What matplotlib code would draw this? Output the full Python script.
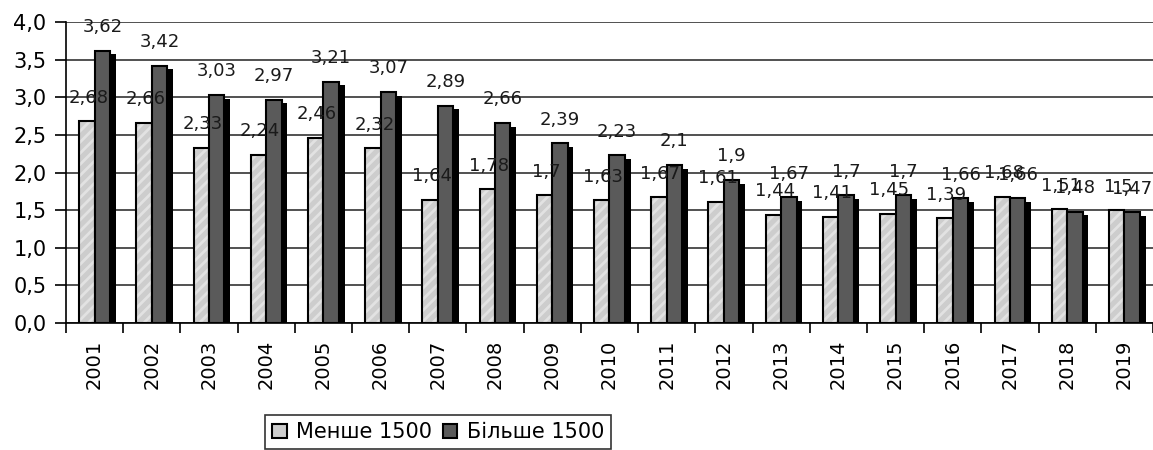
import matplotlib.pyplot as plt
import numpy as np

years = ['2001', '2002', '2003', '2004', '2005', '2006', '2007', '2008', '2009', '2010',
         '2011', '2012', '2013', '2014', '2015', '2016', '2017', '2018', '2019']
less_1500 = [2.68, 2.66, 2.33, 2.24, 2.46, 2.32, 1.64, 1.78, 1.7, 1.63,
             1.67, 1.61, 1.44, 1.41, 1.45, 1.39, 1.68, 1.51, 1.5]
more_1500 = [3.62, 3.42, 3.03, 2.97, 3.21, 3.07, 2.89, 2.66, 2.39, 2.23,
             2.1, 1.9, 1.67, 1.7, 1.7, 1.66, 1.66, 1.48, 1.47]
labels = ['Менше 1500', 'Більше 1500']

def fmt(v):
  return ('%g' % v).replace('.', ',')

plt.rcParams['font.family'] = 'DejaVu Sans'
plt.rcParams['hatch.linewidth'] = 2.0

fig = plt.figure(figsize=(11.53, 4.5), dpi=100)
ax = fig.add_axes([0.0572, 0.282, 0.9428, 0.669])

x = np.arange(len(years))
w = 0.27
xl = x - w / 2
xd = x + w / 2

# black drop shadow behind each bar
ax.bar(xd + 0.1, np.array(more_1500) - 0.05, w, color='black', zorder=2)
ax.bar(xl + 0.1, np.array(less_1500) - 0.05, w, color='black', zorder=2)

# light bars: grey with a soft streaky texture
ax.bar(xl, less_1500, w, color='#cdcdcd', hatch='///', edgecolor='#e2e2e2', linewidth=0, zorder=3)
ax.bar(xl, less_1500, w, facecolor='none', edgecolor='black', linewidth=1.5, zorder=4)
ax.bar(xd, more_1500, w, color='#5a5a5a', edgecolor='black', linewidth=1.5, zorder=4)

for xi, v in zip(xl, less_1500):
  ax.annotate(fmt(v), (xi, v), xytext=(1, 17), textcoords='offset points',
              ha='center', va='center', fontsize=13, color='#1a1a1a', zorder=5)
for xi, v in zip(xd, more_1500):
  ax.annotate(fmt(v), (xi, v), xytext=(0, 17), textcoords='offset points',
              ha='center', va='center', fontsize=13, color='#1a1a1a', zorder=5)

ax.set_xlim(-0.5, len(years) - 0.5)
ax.set_ylim(0, 4.0)
yt = np.arange(0, 4.01, 0.5)
ax.set_yticks(yt)
ax.set_yticklabels([('%.1f' % t).replace('.', ',') for t in yt], fontsize=15)
ax.yaxis.grid(True, color='#333333', linewidth=1.2, zorder=0)
ax.set_axisbelow(True)

ax.set_xticks(np.arange(-0.5, len(years), 1.0))
ax.set_xticklabels([])
ax.set_xticks(x, minor=True)
ax.set_xticklabels(years, minor=True, rotation=90, fontsize=14)
ax.tick_params(axis='x', which='major', length=7, width=1.2, direction='out')
ax.tick_params(axis='x', which='minor', length=0, pad=12)
ax.tick_params(axis='y', length=8, width=1.2, direction='out', pad=6)

for s in ['top', 'right']:
  ax.spines[s].set_visible(False)
ax.spines['left'].set_linewidth(1.2)
ax.spines['bottom'].set_linewidth(1.2)

h1 = plt.Rectangle((0, 0), 1, 1, facecolor='#cdcdcd', edgecolor='black', linewidth=1.5)
h2 = plt.Rectangle((0, 0), 1, 1, facecolor='#5a5a5a', edgecolor='black', linewidth=1.5)
leg = fig.legend([h1, h2], labels, loc='upper left', bbox_to_anchor=(0.23, 0.078),
                 ncol=2, fontsize=15, frameon=True, fancybox=False, edgecolor='black',
                 handlelength=0.7, handleheight=0.7, handletextpad=0.45, columnspacing=0.5,
                 borderpad=0.35, borderaxespad=0)
leg.get_frame().set_linewidth(1.2)

fig.savefig('out.png', dpi=100)
